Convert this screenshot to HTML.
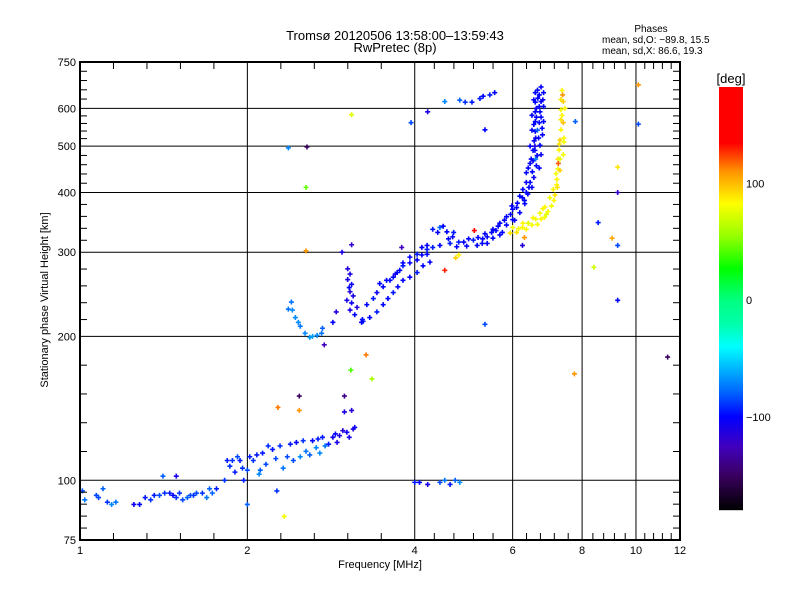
<!DOCTYPE html>
<html><head><meta charset="utf-8">
<style>
html,body{margin:0;padding:0;background:#fff;}
svg{display:block;font-family:"Liberation Sans",sans-serif;}
</style></head>
<body>
<svg id="chart" width="800" height="600" viewBox="0 0 800 600">
<rect x="0" y="0" width="800" height="600" fill="#fff"/>
<text x="395" y="40" font-size="13" text-anchor="middle">Tromsø 20120506 13:58:00–13:59:43</text>
<text x="395" y="52" font-size="13" text-anchor="middle">RwPretec (8p)</text>
<text x="651" y="32" font-size="10" text-anchor="middle">Phases</text>
<text x="602" y="43" font-size="10">mean, sd,O: −89.8, 15.5</text>
<text x="602" y="54" font-size="10">mean, sd,X:  86.6, 19.3</text>
<text x="380" y="568" font-size="11" text-anchor="middle">Frequency [MHz]</text>
<text x="0" y="0" font-size="11" text-anchor="middle" transform="translate(48,300) rotate(-90)">Stationary phase Virtual Height [km]</text>
<text x="731" y="83" font-size="13" text-anchor="middle">[deg]</text>
<g id="grid"></g>
<g id="points"></g>
<g id="axes"></g>
<g id="cbar"></g>
</svg>
<script>
// ---- data ----
const xTickValues = [1, 2, 4, 6, 8, 10, 12];
const xTickLabels = ["1", "2", "4", "6", "8", "10", "12"];
const yTickValues = [75, 100, 200, 300, 400, 500, 600, 750];
const yTickLabels = ["75", "100", "200", "300", "400", "500", "600", "750"];
const cbarTickValues = [100, 0, -100];
const cbarTickLabels = ["100", "0", "−100"];
const phaseMin = -180, phaseMax = 183;
// [freq MHz, height km, phase deg]
const eLayerEchoes = [
[1.01,95,-85],[1.02,91,-75],[1.08,92,-85],[1.10,96,-80],[1.12,90,-90],[1.14,89,-70],[1.16,90,-75],
[1.28,89,-100],[1.31,92,-95],[1.34,91,-90],[1.39,93,-85],[1.42,94,-90],[1.45,94,-95],[1.49,92,-90],
[1.53,91,-85],[1.56,92,-80],[1.62,94,-85],[1.69,92,-75],[1.73,94,-80],[1.76,96,-95],[1.82,100,-90],
[1.84,110,-95],[1.88,110,-90],[1.94,110,-95],[1.96,106,-90],[2.0,105,-85],[2.02,112,-95],[2.05,110,-90],
[2.11,105,-80],[2.13,114,-95],[2.22,116,-95],[2.29,118,-90],[2.32,106,-75],[2.42,110,-85],[2.45,120,-100],
[2.49,112,-70],[2.59,113,-80],[2.62,121,-100],[2.70,114,-70],[2.73,123,-95],[2.85,123,-105],[2.93,124,-110],
[3.02,126,-105],[3.10,128,-110],[2.99,139,-110],[3.08,140,-115],[2.26,95,-90],[2.0,89,-80],[1.41,102,-80],
[1.49,102,-110],[1.90,104,-95],[2.16,108,-85],[2.36,112,-85],[2.55,115,-75],[2.66,117,-70],[2.80,119,-95],
[2.90,120,-110],[3.05,123,-110],[1.97,100,-95],[1.07,93,-85],[1.60,93,-90],
[1.47,93,-100],[1.51,94,-90],[1.58,93,-85],[1.66,94,-90],[1.71,96,-80],[1.86,107,-90],[1.92,112,-85],
[2.08,113,-95],[2.18,118,-90],[2.25,111,-85],[2.39,119,-95],[2.52,121,-90],[2.76,118,-75],[2.88,125,-100],
[2.97,127,-115],[3.12,129,-105],[2.10,103,-70],[2.68,122,-95],[1.36,93,-95],[1.25,89,-105]
];
const eLayerRight = [
[4.0,99,-95],[4.08,99,-100],[4.22,98,-110],[4.44,99,-85],[4.53,100,-75],[4.63,98,-95],[4.73,100,-80],[4.82,99,-70]
];
const fLowerCurve = [
[2.37,228,-75],[2.40,236,-75],[2.41,227,-70],[2.44,219,-70],[2.49,210,-75],[2.54,203,-70],[2.59,199,-65],
[2.67,201,-70],[2.72,203,-75],[2.73,208,-80],[2.85,214,-100],[2.89,225,-110],[2.62,200,-65],[2.47,214,-70]
];
const fHook = [
[3.03,277,-115],[3.06,270,-110],[3.03,263,-110],[3.08,257,-105],[3.06,248,-115],[3.02,238,-110],[3.08,235,-105],
[3.06,227,-110],[3.12,222,-100],[3.15,230,-115],[3.22,217,-100],[3.23,215,-95],[3.05,253,-100],[3.10,243,-110]
];
const oTrace = [
[3.21,214,-100],[3.32,219,-100],[3.42,225,-95],[3.51,233,-100],[3.58,240,-100],[3.66,247,-95],[3.73,254,-100],
[3.81,262,-100],[3.92,266,-100],[4.04,272,-95],[4.14,281,-100],[4.26,286,-100],
[3.28,233,-100],[3.37,240,-95],[3.42,247,-105],[3.51,254,-100],[3.56,262,-100],[3.66,266,-100],[3.72,272,-100],
[3.81,281,-95],[3.92,285,-100],[4.04,289,-100],[4.12,296,-100],[4.21,304,-95],
[3.46,258,-100],[3.61,262,-100],[3.69,270,-105],[3.76,275,-100],[3.81,285,-100],[3.92,293,-100],[4.04,297,-95],
[4.12,307,-100],[4.21,310,-100],
[4.31,335,-95],[4.44,338,-80],[4.57,331,-100],[4.68,323,-100],[4.63,313,-95],[4.44,310,-100],[4.31,307,-95],
[4.21,297,-100],[4.76,308,-100],[4.96,309,-100],[5.18,310,-100],[5.40,313,-100],[5.53,321,-100],[5.69,326,-100],
[5.85,342,-100],[6.0,351,-100],[6.18,363,-100],[6.31,379,-100],[6.39,397,-100],[6.45,420,-100],[6.51,442,-100],
[6.53,466,-100],[6.53,490,-100],[6.56,513,-100],[6.59,537,-100],[6.59,563,-100],[6.59,590,-100],[6.59,618,-100],
[6.59,647,-100],[6.82,647,-100],[6.82,605,-100],[6.82,563,-100],[6.79,528,-100],[6.72,502,-100],[6.64,478,-100],
[6.26,406,-100],[6.18,393,-100],[6.0,369,-100],[5.85,356,-100],[5.69,345,-100],[5.53,335,-100],[5.40,323,-100],
[5.29,313,-100],[4.90,315,-100],[5.10,318,-95],[5.30,320,-100],[5.60,333,-100],[5.95,360,-100],[6.10,372,-100],
[6.35,420,-100],[6.40,450,-100],[6.70,450,-100],[6.75,480,-105],[6.45,500,-100],[6.50,540,-100],[6.70,560,-100],
[6.72,590,-100],[6.75,620,-100],[6.70,640,-100],[6.65,540,-80],[6.60,470,-75],[6.50,580,-100],[6.78,545,-100],
[6.62,600,-105],[6.55,625,-100],[6.48,470,-100],[6.25,390,-100],[6.05,350,-105],[5.75,330,-100],
[6.65,655,-100],[6.75,665,-100],[6.66,630,-100],[6.80,625,-105],[6.62,575,-100],[6.75,575,-100],[6.55,555,-100],
[6.68,520,-100],[6.58,500,-110],[6.62,455,-100],[6.55,430,-105],[6.42,410,-100],[6.35,400,-100],[6.50,410,-100],
[6.30,385,-100],[6.12,380,-100],[5.98,375,-100],[5.80,350,-100],[5.65,340,-100],[5.50,330,-100],[5.35,328,-100],
[5.20,322,-100],[5.00,320,-100],[4.80,315,-95],[4.60,320,-100],[4.40,330,-100],[4.50,340,-100],[4.70,330,-95],
[6.58,490,-100],[6.70,605,-100],[6.60,520,-105],[6.45,460,-100],[6.35,440,-100]
];
const xTrace = [
[5.94,329,90],[6.0,338,80],[6.26,345,85],[6.53,354,85],[6.72,362,80],[6.86,373,85],[7.0,390,80],[7.10,406,85],
[7.21,426,85],[7.24,448,80],[7.24,470,90],[7.27,491,85],[7.30,515,95],[7.33,541,85],[7.33,568,90],[7.33,596,80],
[7.33,626,90],[7.36,654,85],[6.15,336,80],[6.40,345,75],[6.60,352,80],[6.35,335,85],[6.65,343,80],[6.90,360,75],
[7.05,375,80],[7.15,395,90],[7.20,415,85],[7.30,445,95],[7.40,480,80],[7.42,520,85],[7.40,560,100],[7.45,600,85],
[7.38,640,110],[7.25,460,120],[6.80,370,85],[6.10,330,90],[7.42,510,80],
[6.25,338,85],[6.50,342,80],[6.75,352,85],[6.95,365,80],[7.12,385,85],[7.18,438,80],[7.28,505,90],[7.36,580,85],
[7.40,620,95],[7.30,470,75],[7.22,410,90],[6.85,355,80]
];
const stray = [
[4.74,292,95],[4.80,296,85],[4.53,275,130],[4.82,624,-80],[4.93,618,-90],[5.07,618,-95],[5.24,629,-95],
[5.31,636,-100],[5.46,640,-95],[5.57,647,-100],[4.53,620,-70],[3.94,560,-85],[4.22,590,-110],[5.35,541,-100],
[2.37,496,-70],[2.56,498,-150],[3.08,582,75],[2.55,410,45],[2.55,302,110],[3.08,311,-120],[3.79,307,-125],
[5.12,333,135],[5.35,212,-85],[6.30,322,110],[6.25,310,-115],[7.78,563,-80],[8.55,346,-95],[8.4,279,70],
[7.75,167,110],[9.06,321,105],[9.27,310,-85],[9.27,238,-100],[9.27,452,90],[9.27,400,-120],[10.1,672,110],
[10.1,556,-85],[11.4,181,-150],[2.27,142,115],[2.48,140,110],[2.48,150,-150],[3.07,170,40],[3.35,163,60],
[2.99,150,-140],[3.27,183,115],[2.33,84,80],[2.75,192,-125],[2.96,300,-110]
];

// ---- scales ----
const X0 = 80, X1 = 680, Y0 = 540, Y1 = 62;
const xScale = f => X0 + (Math.log10(f) - Math.log10(1)) / (Math.log10(12) - Math.log10(1)) * (X1 - X0);
const yScale = h => Y0 - (Math.log10(h) - Math.log10(75)) / (Math.log10(750) - Math.log10(75)) * (Y0 - Y1);
const CB_TOP = 87, CB_BOT = 510;
const cbScale = p => CB_BOT - (p - phaseMin) / (phaseMax - phaseMin) * (CB_BOT - CB_TOP);

const stops = [[-180,[0,0,0]],[-150,[58,0,96]],[-125,[64,0,192]],[-100,[0,0,255]],[-80,[0,96,255]],
[-60,[0,176,255]],[-40,[0,255,255]],[-20,[0,255,170]],[0,[0,255,128]],[27,[0,255,0]],[55,[150,255,0]],
[83,[255,255,0]],[110,[255,150,0]],[135,[255,0,0]],[183,[255,0,0]]];
function phaseColor(p){
  for(let i=0;i<stops.length-1;i++){
    const a=stops[i],b=stops[i+1];
    if(p<=b[0]){const t=Math.max(0,(p-a[0])/(b[0]-a[0]));
      const c=a[1].map((v,k)=>Math.round(v+(b[1][k]-v)*t));return `rgb(${c[0]},${c[1]},${c[2]})`;}
  }
  return 'rgb(255,0,0)';
}
const NS="http://www.w3.org/2000/svg";
function mk(tag,attrs,parent){const e=document.createElementNS(NS,tag);for(const k in attrs)e.setAttribute(k,attrs[k]);parent.appendChild(e);return e;}

// ---- grid ----
const grid=document.getElementById('grid');
xTickValues.slice(1,-1).forEach(v=>{
  const l=mk('line',{x1:xScale(v),x2:xScale(v),y1:Y1,y2:Y0,stroke:'#000','stroke-width':1},grid);
  
  
});
yTickValues.slice(1,-1).forEach(v=>{
  const l=mk('line',{x1:X0,x2:X1,y1:yScale(v),y2:yScale(v),stroke:'#000','stroke-width':1},grid);
  
  
});

// ---- points ----
const pg=document.getElementById('points');
function drawSeries(arr,name){
  arr.forEach(d=>{
    const x=xScale(d[0]),y=yScale(d[1]),c=phaseColor(d[2]);
    const p=mk('path',{d:`M${x-2.5},${y}H${x+2.5}M${x},${y-2.5}V${y+2.5}`,stroke:c,'stroke-width':1.6,fill:'none'},pg);
    
    
  });
}
drawSeries(eLayerEchoes,'e-layer-echo');
drawSeries(eLayerRight,'e-layer-echo');
drawSeries(fLowerCurve,'f-layer-echo');
drawSeries(fHook,'f-layer-echo');
drawSeries(oTrace,'o-mode-echo');
drawSeries(xTrace,'x-mode-echo');
drawSeries(stray,'stray-echo');

// ---- axes ----
const ax=document.getElementById('axes');
const frame=mk('rect',{x:X0,y:Y1,width:X1-X0,height:Y0-Y1,fill:'none',stroke:'#000','stroke-width':2},ax);


for(let i=0;i<xTickValues.length-1;i++){
  const a=xScale(xTickValues[i]),b=xScale(xTickValues[i+1]);
  for(let k=1;k<5;k++){const x=a+(b-a)*k/5;
    mk('line',{x1:x,x2:x,y1:Y0,y2:Y0-7,stroke:'#000'},ax);
    mk('line',{x1:x,x2:x,y1:Y1,y2:Y1+7,stroke:'#000'},ax);}
}
for(let i=0;i<yTickValues.length-1;i++){
  const a=yScale(yTickValues[i]),b=yScale(yTickValues[i+1]);
  for(let k=1;k<5;k++){const y=a+(b-a)*k/5;
    mk('line',{x1:X0,x2:X0+7,y1:y,y2:y,stroke:'#000'},ax);
    mk('line',{x1:X1,x2:X1-7,y1:y,y2:y,stroke:'#000'},ax);}
}
xTickValues.forEach((v,i)=>{
  const t=mk('text',{x:xScale(v),y:554,'font-size':11,'text-anchor':'middle'},ax);t.textContent=xTickLabels[i];
  
  
});
yTickValues.forEach((v,i)=>{
  const t=mk('text',{x:76,y:yScale(v)+4,'font-size':11,'text-anchor':'end'},ax);t.textContent=yTickLabels[i];
  
  
});

// ---- colorbar ----
const cb=document.getElementById('cbar');
for(let y=CB_TOP;y<CB_BOT;y++){
  const p=phaseMin+(CB_BOT-y-0.5)/(CB_BOT-CB_TOP)*(phaseMax-phaseMin);
  mk('rect',{x:719,y:y,width:24,height:1.2,fill:phaseColor(p)},cb);
}


cbarTickValues.forEach((v,i)=>{
  const t=mk('text',{x:746,y:cbScale(v)+4,'font-size':11},cb);t.textContent=cbarTickLabels[i];
  
  
});
</script>
</body></html>
